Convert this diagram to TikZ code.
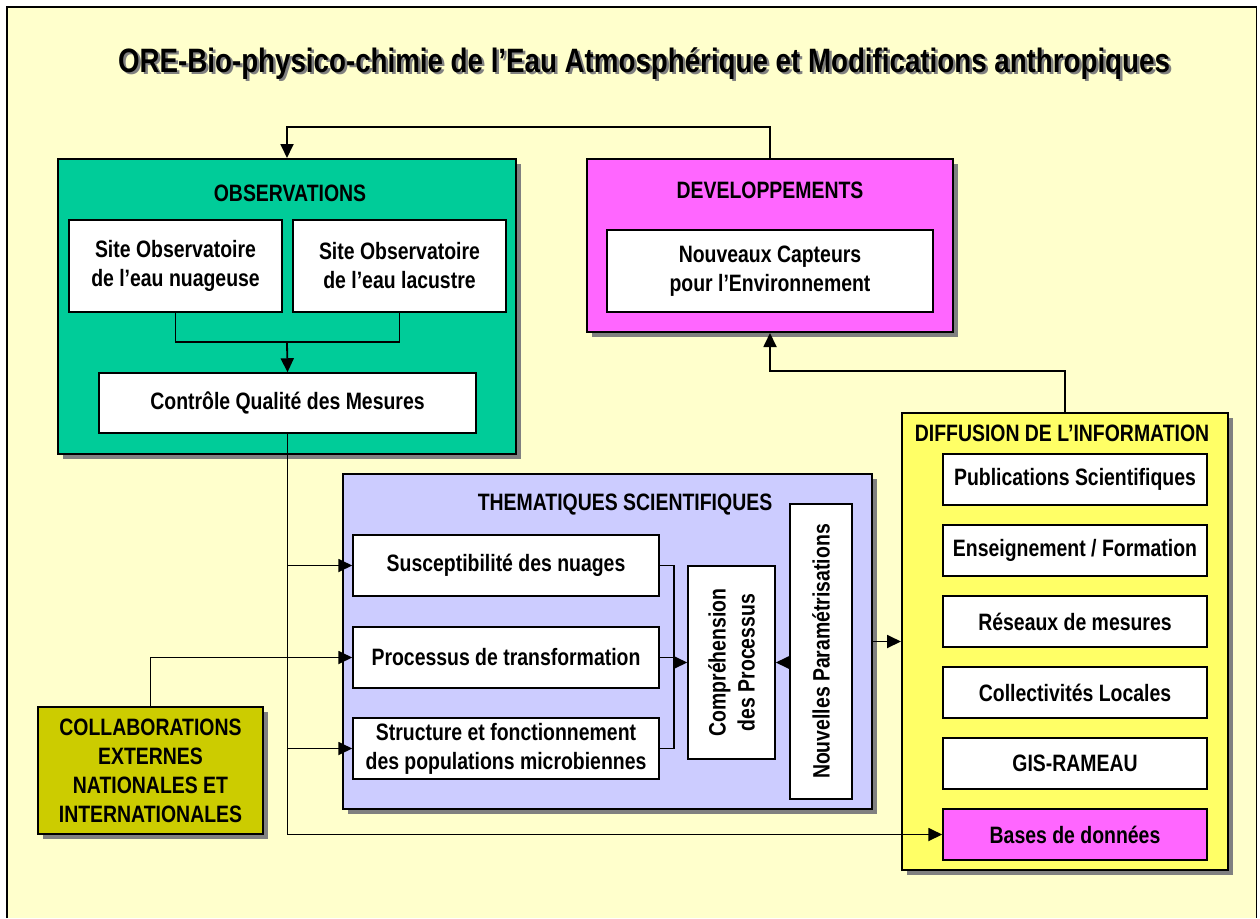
\documentclass[tikz,border=0pt]{standalone}
\usepackage{fontspec}
\setmainfont{Liberation Sans}[FakeStretch=0.82]
\usetikzlibrary{arrows.meta,shadows}
\definecolor{bg}{HTML}{FFFFCC}
\definecolor{obsgreen}{HTML}{00CC99}
\definecolor{devmag}{HTML}{FF66FF}
\definecolor{themlav}{HTML}{CCCCFF}
\definecolor{diffyel}{HTML}{FFFF66}
\definecolor{collol}{HTML}{CCCC00}
\definecolor{shadowgray}{HTML}{808080}
\begin{document}
\begin{tikzpicture}[x=1pt,y=-1pt,
  font=\bfseries\fontsize{23.7}{29}\selectfont,
  group/.style={draw=black, line width=2pt, inner sep=0pt,
    drop shadow={shadow xshift=5pt,shadow yshift=-5pt,fill=shadowgray,opacity=1}},
  box/.style={draw=black, line width=1.5pt, fill=white, align=center, inner sep=0pt},
  lbl/.style={inner sep=0pt, align=center},
  lin/.style={line width=1.8pt},
  arr/.style={line width=1.8pt, -{Triangle[length=14pt,width=13pt]}}]
\useasboundingbox (0,0) rectangle (1260,918);
\fill[bg] (7,7) rectangle (1256.5,918);
\draw[line width=1.5pt] (7,918) -- (7,7) -- (1256.5,7) -- (1256.5,918);
% title
\node[lbl, anchor=base, text=shadowgray, font=\bfseries\fontsize{33.8}{40}\selectfont] (titleshadow) at (646.5,74.5) {ORE-Bio-physico-chimie de l’Eau Atmosphérique et Modifications anthropiques};
\node[lbl, anchor=base, font=\bfseries\fontsize{33.8}{40}\selectfont] (title) at (644,72) {ORE-Bio-physico-chimie de l’Eau Atmosphérique et Modifications anthropiques};
% OBSERVATIONS
\node[group, fill=obsgreen, minimum width=458pt, minimum height=295pt] (obs) at (287,306.5) {};
\node[lbl] (obslbl) at (290,193) {OBSERVATIONS};
\node[box, minimum width=213pt, minimum height=92pt] (site1) at (175.5,266) {Site Observatoire\\de l’eau nuageuse};
\node[box, minimum width=213pt, minimum height=92pt] (site2) at (399.5,266) {Site Observatoire\\de l’eau lacustre};
\node[box, minimum width=377pt, minimum height=60pt] (ctrl) at (287.5,403) {Contrôle Qualité des Mesures};
% DEVELOPPEMENTS
\node[group, fill=devmag, minimum width=366pt, minimum height=173pt] (dev) at (770,245.5) {};
\node[lbl] (devlbl) at (770,190) {DEVELOPPEMENTS};
\node[box, minimum width=326pt, minimum height=82pt] (capt) at (770,271) {Nouveaux Capteurs\\pour l’Environnement};
% THEMATIQUES
\node[group, fill=themlav, minimum width=529pt, minimum height=335pt] (them) at (607.5,641.5) {};
\node[lbl] (themlbl) at (625,505) {THEMATIQUES SCIENTIFIQUES};
\node[box, minimum width=306pt, minimum height=61pt] (sus) at (506,565.5) {Susceptibilité des nuages};
\node[box, minimum width=306pt, minimum height=61pt] (proc) at (506,657.5) {Processus de transformation};
\node[box, minimum width=306pt, minimum height=61pt] (struct) at (506,748.5) {Structure et fonctionnement\\des populations microbiennes};
\node[box, minimum width=87pt, minimum height=193pt] (comp) at (731.5,662.5) {};
\node[lbl, rotate=90] (comptxt) at (comp.center) {Compréhension\\des Processus};
\node[box, minimum width=62pt, minimum height=295pt] (nouv) at (821,651.5) {};
\node[lbl, rotate=90] (nouvtxt) at (nouv.center) {Nouvelles Paramétrisations};
% DIFFUSION
\node[group, fill=diffyel, minimum width=326pt, minimum height=457pt] (diff) at (1065,641.5) {};
\node[lbl] (difflbl) at (1062,433) {DIFFUSION DE L’INFORMATION};
\node[box, minimum width=264pt, minimum height=51pt] (pub) at (1075,479.5) {Publications Scientifiques};
\node[box, minimum width=264pt, minimum height=51pt] (ens) at (1075,550.5) {Enseignement / Formation};
\node[box, minimum width=264pt, minimum height=51pt] (res) at (1075,621.5) {Réseaux de mesures};
\node[box, minimum width=264pt, minimum height=51pt] (col) at (1075,692.5) {Collectivités Locales};
\node[box, minimum width=264pt, minimum height=51pt] (gis) at (1075,763.5) {GIS-RAMEAU};
\node[box, fill=devmag, minimum width=264pt, minimum height=51pt] (bases) at (1075,834.5) {Bases de données};
% COLLABORATIONS
\node[group, fill=collol, minimum width=225pt, minimum height=127pt, align=center] (collab) at (150.5,770.5) {COLLABORATIONS\\EXTERNES\\NATIONALES ET\\INTERNATIONALES};
% connectors
\coordinate (mj) at (287,342);
\coordinate (br) at (674,600);
\draw[arr] (dev.north) -- ++(0,-31) -| (obs.north);
\draw[arr] (diff.north) -- ++(0,-41) -| (dev.south);
\draw[lin] (site1.south) |- (mj) -| (site2.south);
\draw[arr] (mj) -- (ctrl.north);
\draw[arr] (ctrl.south) |- (bases.west);
\draw[arr] (ctrl.south |- sus.west) -- (sus.west);
\draw[arr] (ctrl.south |- struct.west) -- (struct.west);
\draw[arr] (collab.north) |- (proc.west);
\draw[lin] (sus.east) -- (sus.east -| br) -- (struct.east -| br) -- (struct.east);
\draw[lin] (proc.east) -- (proc.east -| br);
\draw[arr] (br |- comp.west) -- (comp.west);
\draw[arr] (nouv.west |- comp.east) -- (comp.east);
\draw[arr] (them.east) -- (diff.west);
\end{tikzpicture}
\end{document}
